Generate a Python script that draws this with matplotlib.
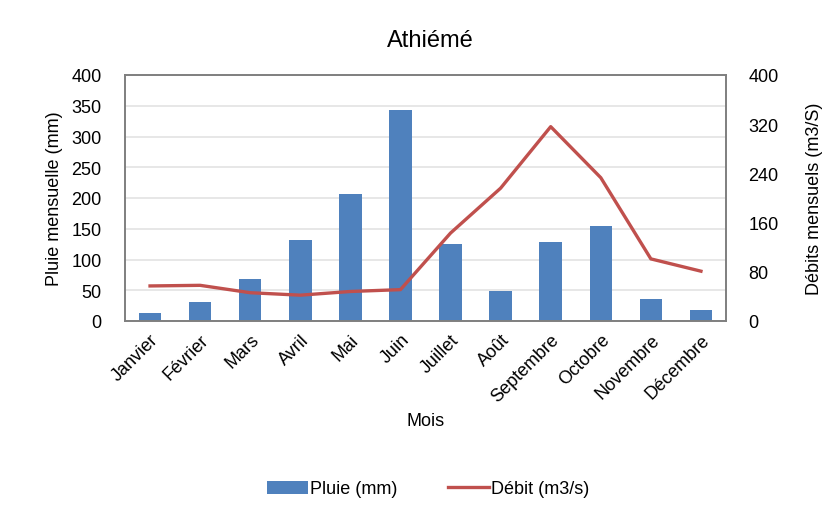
import matplotlib
matplotlib.use("Agg")
import matplotlib.pyplot as plt
import numpy as np

plt.rcParams['font.family'] = ['Liberation Sans', 'DejaVu Sans']

mois = ["Janvier", "Février", "Mars", "Avril", "Mai", "Juin", "Juillet",
        "Août", "Septembre", "Octobre", "Novembre", "Décembre"]
pluie = [13, 31, 69, 132, 207, 343, 126, 49, 129, 154, 35, 18]
debit = [57, 58, 46, 42, 48, 51, 143, 216, 316, 233, 101, 81]

left_ticks = [0, 50, 100, 150, 200, 250, 300, 350, 400]
right_ticks = [0, 80, 160, 240, 320, 400]

FS = 13

fig = plt.figure(figsize=(8.34, 5.10), dpi=100)
ax = fig.add_axes([125/834, 1-322/510, (726-125)/834, (322-76)/510])
x = np.arange(len(mois))
bars = ax.bar(x, pluie, width=0.45, color='#4f81bd', label='Pluie (mm)', zorder=2)
ax.set_xlim(-0.5, len(mois)-0.5)
ax.set_ylim(0, 400)
ax.set_yticks(left_ticks)
ax.grid(axis='y', color='#e3e3e3', linewidth=1.2, zorder=0)
ax.set_axisbelow(True)
ax.set_xticks(x)
ax.set_xticklabels(mois, rotation=45, ha='right', rotation_mode='anchor', fontsize=FS)
ax.tick_params(axis='x', length=0, labelsize=FS, pad=7)
ax.tick_params(axis='y', length=0, labelsize=FS, pad=17)
ax.set_ylabel('Pluie mensuelle (mm)', fontsize=FS, labelpad=6)
ax.set_xlabel('Mois', fontsize=FS, labelpad=5)

ax2 = ax.twinx()
line, = ax2.plot(x, debit, color='#c0504d', linewidth=2.4, label='Débit (m3/s)', zorder=3)
ax2.set_ylim(0, 400)
ax2.set_yticks(right_ticks)
ax2.tick_params(axis='y', length=0, labelsize=FS, pad=16)
ax2.set_ylabel('Débits mensuels (m3/S)', fontsize=FS, labelpad=20)

for a in (ax, ax2):
    for s in a.spines.values():
        s.set_color('#7f7f7f')
        s.set_linewidth(1.2)

fig.text(430/834, 1-41/510, 'Athiémé', ha='center', va='center', fontsize=17)

fig.legend([bars, line], ['Pluie (mm)', 'Débit (m3/s)'], loc='center',
           bbox_to_anchor=(428/834, 1-490/510), ncol=2, frameon=False,
           fontsize=FS, handlelength=2.3, handletextpad=0.1, columnspacing=2.8)

fig.savefig('out.png', dpi=100)
